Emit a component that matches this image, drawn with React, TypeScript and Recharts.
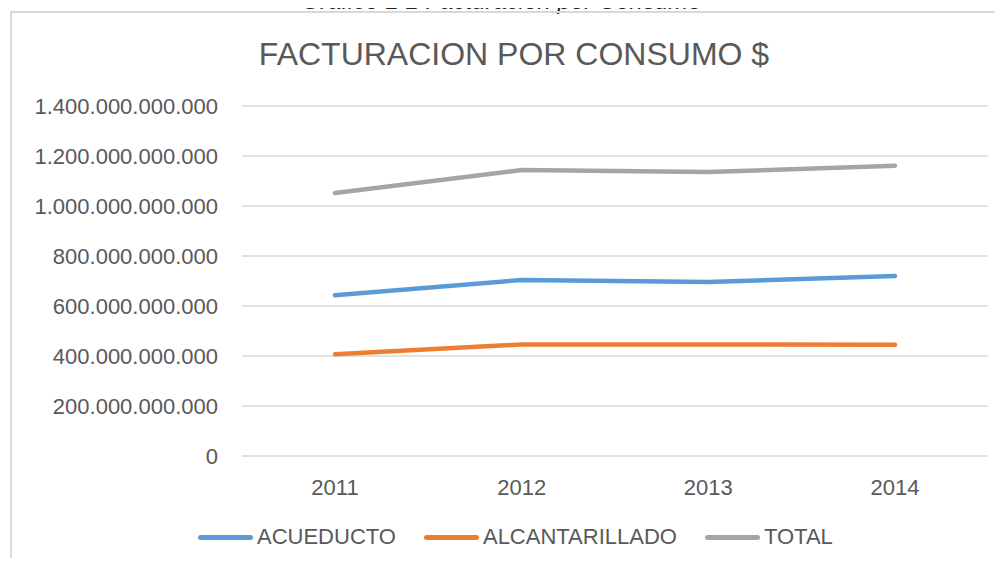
import React from 'react';
import { LineChart, Line, XAxis, YAxis, CartesianGrid, Legend } from 'recharts';

const years = ['2011', '2012', '2013', '2014'];
const acueducto = [643e9, 704e9, 696e9, 720e9];
const alcantarillado = [407e9, 446e9, 446e9, 445e9];
const total = [1052e9, 1144e9, 1136e9, 1161e9];
const yTicks = [0, 200e9, 400e9, 600e9, 800e9, 1000e9, 1200e9, 1400e9];

const seriesInfo = [
  { key: 'acueducto', name: 'ACUEDUCTO', color: '#5B9BD5' },
  { key: 'alcantarillado', name: 'ALCANTARILLADO', color: '#ED7D31' },
  { key: 'total', name: 'TOTAL', color: '#A5A5A5' },
];

const data = years.map((year, i) => ({
  year,
  acueducto: acueducto[i],
  alcantarillado: alcantarillado[i],
  total: total[i],
}));

const FONT = "'Liberation Sans', Arial, sans-serif";
const TEXT = '#595959';

const formatTick = (v: number) => String(v).replace(/\B(?=(\d{3})+(?!\d))/g, '.');

const LegendContent = () => (
  <div style={{ height: 30, display: 'flex', alignItems: 'center', paddingLeft: 198, fontFamily: FONT, fontSize: 22, color: TEXT }}>
    {seriesInfo.map((s) => (
      <div key={s.key} style={{ display: 'flex', alignItems: 'center', marginRight: 28 }}>
        <div style={{ width: 55, height: 5, borderRadius: 3, background: s.color, marginRight: 4 }} />
        <span>{s.name}</span>
      </div>
    ))}
  </div>
);

const App: React.FC = () => {
  return (
    <div style={{ position: 'relative', width: 1003, height: 566, margin: -8, overflow: 'hidden', background: '#fff', fontFamily: FONT }}>
      <div style={{ position: 'absolute', left: 0, width: 1003, top: -11, textAlign: 'center', fontStyle: 'italic', fontSize: 24, lineHeight: '24px', color: '#222', paddingRight: 14 }}>
        Grafico 1 1 Facturacion por Consumo
      </div>
      <div style={{ position: 'absolute', left: 10, top: 11, width: 1020, height: 600, borderTop: '2px solid #d9d9d9', borderLeft: '2px solid #d9d9d9' }} />
      <div style={{ position: 'absolute', left: 0, width: 1028, top: 38, textAlign: 'center', fontSize: 32, lineHeight: '32px', color: TEXT }}>
        FACTURACION POR CONSUMO $
      </div>
      <div style={{ position: 'absolute', left: 0, top: 0 }}>
        <LineChart width={1003} height={566} data={data} margin={{ top: 106, right: 15, bottom: 14, left: 0 }}>
          <CartesianGrid vertical={false} stroke="#d9d9d9" strokeWidth={1.5} />
          <XAxis
            dataKey="year"
            height={66}
            padding={{ left: 93, right: 93 }}
            axisLine={false}
            tickLine={false}
            tickSize={0}
            tickMargin={23}
            tick={{ fill: TEXT, fontSize: 22, fontFamily: FONT }}
          />
          <YAxis
            width={242}
            domain={[0, 1400e9]}
            ticks={yTicks}
            axisLine={false}
            tickLine={false}
            tickSize={0}
            tickMargin={24}
            tickFormatter={formatTick}
            tick={{ fill: TEXT, fontSize: 22, fontFamily: FONT }}
          />
          <Legend verticalAlign="bottom" content={<LegendContent />} />
          {seriesInfo.map((s) => (
            <Line
              key={s.key}
              type="linear"
              dataKey={s.key}
              name={s.name}
              stroke={s.color}
              strokeWidth={4.5}
              strokeLinecap="round"
              strokeLinejoin="round"
              dot={false}
              activeDot={false}
              isAnimationActive={false}
            />
          ))}
        </LineChart>
      </div>
    </div>
  );
};

export default App;
